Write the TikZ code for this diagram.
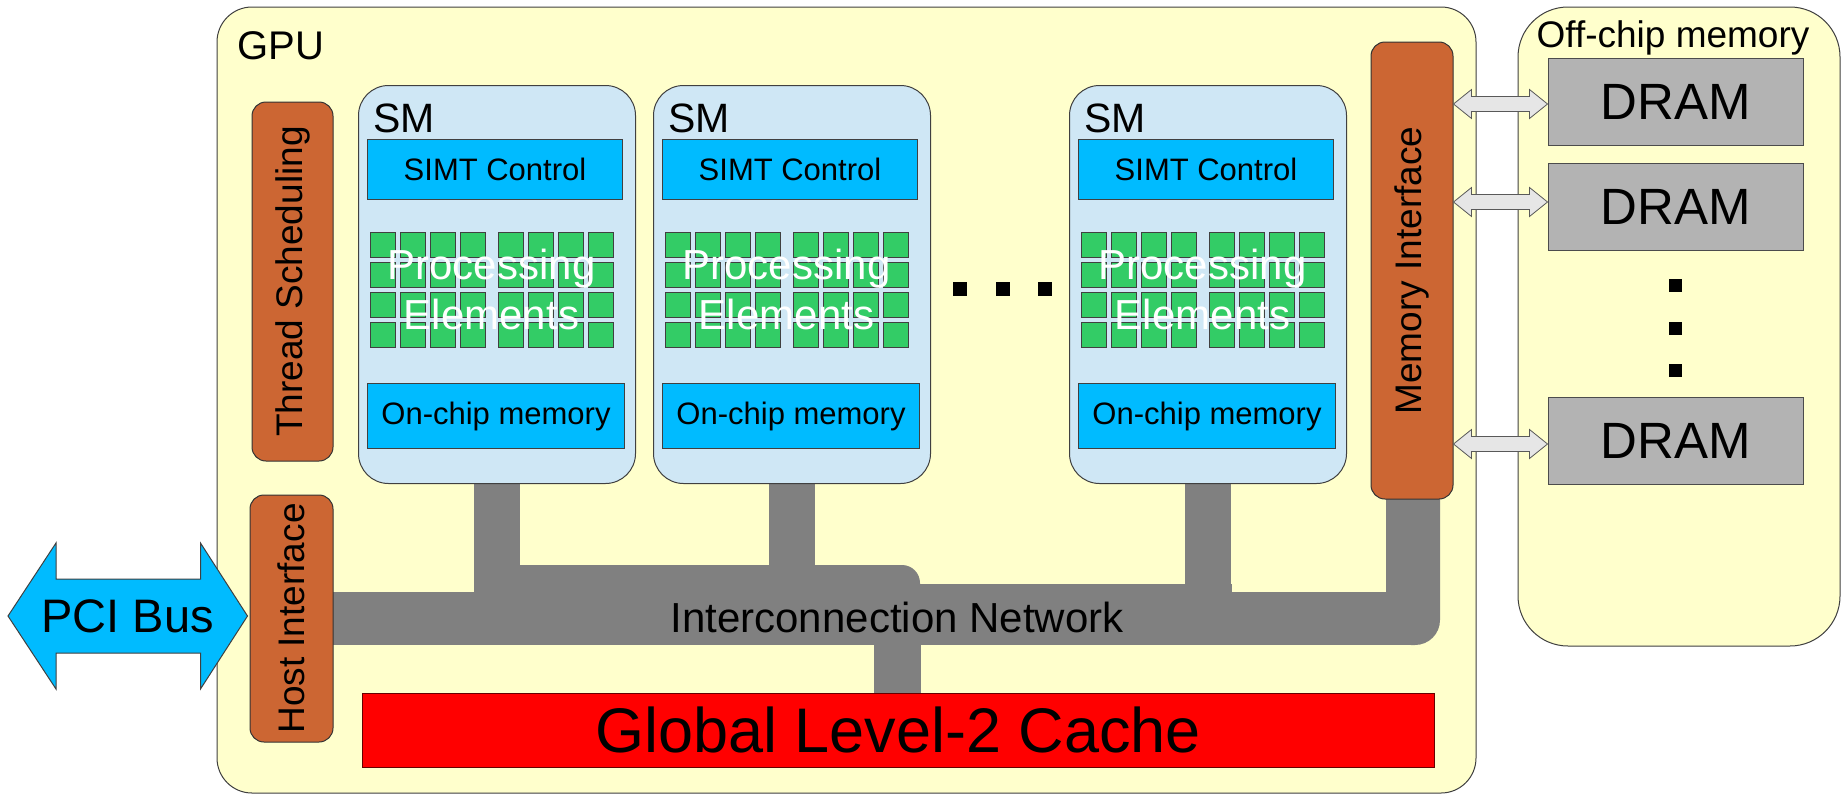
\documentclass[tikz,border=0pt]{standalone}
\usepackage{fontspec}
\setmainfont{Liberation Sans}
\usetikzlibrary{calc}
\definecolor{gpuyellow}{HTML}{FFFFCC}
\definecolor{smblue}{HTML}{CFE7F5}
\definecolor{simtblue}{HTML}{00BBFF}
\definecolor{pegreen}{HTML}{33CC66}
\definecolor{unitorange}{HTML}{CC6633}
\definecolor{busgray}{HTML}{808080}
\definecolor{dramgray}{HTML}{B3B3B3}
\definecolor{linkgray}{HTML}{E6E6E6}
\begin{document}
\begin{tikzpicture}[x=1pt, y=-1pt,
   panel/.style={draw=black!75, line width=1pt, fill=gpuyellow},
   lbl/.style={inner sep=0pt},
   smbox/.style={draw=black!75, line width=1pt, fill=smblue, rounded corners=30pt, inner sep=0pt},
   ctrlbox/.style={draw=black!75, line width=1pt, fill=simtblue, inner sep=2pt, font=\fontsize{31}{37}\selectfont},
   pe/.style={draw=black!75, line width=.8pt, fill=pegreen},
   petext/.style={text=white, align=center, inner sep=0pt, font=\fontsize{42}{50}\selectfont},
   unit/.style={draw=black!80, line width=1pt, fill=unitorange, rounded corners=14pt, inner sep=2pt, rotate=90, font=\fontsize{37}{44}\selectfont},
   dram/.style={draw=black!70, line width=1pt, fill=dramgray, minimum width=255, minimum height=87, inner sep=2pt, font=\fontsize{51}{61}\selectfont},
   memlink/.style={draw=black!65, line width=.8pt, fill=linkgray},
   pcibus/.style={draw=black!75, line width=1pt, fill=simtblue},
   bus/.style={fill=busgray}]
   \useasboundingbox (0,0) rectangle (1843,795);

   \draw[panel, rounded corners=35pt] (217,7) rectangle (1476,793);
   \draw[panel, rounded corners=50pt] (1518,7) rectangle (1840,646);
   \node[lbl, anchor=base west, font=\fontsize{40}{48}\selectfont] (gpu) at (237,59) {GPU};
   \node[lbl, anchor=base, font=\fontsize{37}{44}\selectfont] (offchip) at (1673,47) {Off-chip memory};

   \fill[bus] (320,592) rectangle (1415,645);
   \fill[bus, rounded corners=18pt] (474,565) rectangle (920,610);
   \fill[bus] (900,584) rectangle (1232,600);
   \foreach \l in {358,653,1069}
   \fill[bus] (\l+116,470) rectangle ++(46,130);
   \fill[bus, rounded corners=25pt] (1386,470) rectangle (1440,645);
   \fill[bus] (874,640) rectangle (921,693);

   \foreach \l [count=\n] in {358,653,1069} {
      \node[smbox, minimum width=277, minimum height=398, anchor=north west] (sm\n) at (\l,85) {};
      \node[lbl, anchor=base west, font=\fontsize{41}{49}\selectfont] (smname\n) at ([shift={(15,47)}]sm\n.north west) {SM};
      \node[ctrlbox, minimum width=255, minimum height=60, anchor=north west] (simt\n) at ([shift={(9,54)}]sm\n.north west) {SIMT Control};
      \foreach \cx in {0,30,60,90,128,158,188,218}
      \foreach \ry in {0,30,60,90}
      \draw[pe] ([shift={(12+\cx,147+\ry)}]sm\n.north west) rectangle ++(25,25);
      \node[petext] (pe\n) at ([shift={(133.5,204.5)}]sm\n.north west) {Processing\\Elements};
      \node[ctrlbox, minimum width=257, minimum height=65, anchor=north west] (mem\n) at ([shift={(9,298)}]sm\n.north west) {On-chip memory};
   }
   \foreach \x in {960,1003,1045}
   \fill (\x-7,282) rectangle ++(14,14);

   \node[unit, minimum width=359, minimum height=81] (ts) at (292.5,281.5) {Thread Scheduling};
   \node[unit, minimum width=247, minimum height=83] (hi) at (291.5,618.5) {Host Interface};
   \node[unit, minimum width=457, minimum height=82] (mi) at (1412,270.5) {Memory Interface};

   \node[lbl, anchor=base, font=\fontsize{42}{50}\selectfont] (icn) at (897,632) {Interconnection Network};
   \node[draw=black!60!red, line width=1pt, fill=red, minimum width=1072, minimum height=74, inner sep=2pt, font=\fontsize{63}{76}\selectfont] (l2) at (898,730) {Global Level-2 Cache};

   \node[dram] (dramA) at (1675.5,101.5) {DRAM};
   \node[dram] (dramB) at (1675.5,207) {DRAM};
   \node[dram] (dramC) at (1675.5,441) {DRAM};
   \foreach \y in {285,328,370}
   \fill (1668.5,\y-6.5) rectangle ++(13,13);

   \foreach \d/\dy in {dramA/2.5,dramB/-5,dramC/3} {
      \coordinate (t) at ([shift={(0,\dy)}]\d.west);
      \coordinate (s) at (mi.south |- t);
      \draw[memlink] (s) -- ([shift={(18,-14.5)}]s) -- ([shift={(18,-7.5)}]s) -- ([shift={(-18,-7.5)}]t) -- ([shift={(-18,-14.5)}]t) -- (t) -- ([shift={(-18,14.5)}]t) -- ([shift={(-18,7.5)}]t) -- ([shift={(18,7.5)}]s) -- ([shift={(18,14.5)}]s) -- cycle;
   }

   \coordinate (pciL) at (8,616);
   \coordinate (pciR) at ([xshift=-2pt]hi.north |- pciL);
   \draw[pcibus] (pciL) -- ([shift={(48,-73)}]pciL) -- ([shift={(48,-37)}]pciL) -- ([shift={(-47,-37)}]pciR) -- ([shift={(-47,-73)}]pciR) -- (pciR) -- ([shift={(-47,73)}]pciR) -- ([shift={(-47,37)}]pciR) -- ([shift={(48,37)}]pciL) -- ([shift={(48,73)}]pciL) -- cycle;
   \node[lbl, font=\fontsize{47}{56}\selectfont] (pci) at ($(pciL)!.5!(pciR)$) {PCI Bus};

\end{tikzpicture}
\end{document}
